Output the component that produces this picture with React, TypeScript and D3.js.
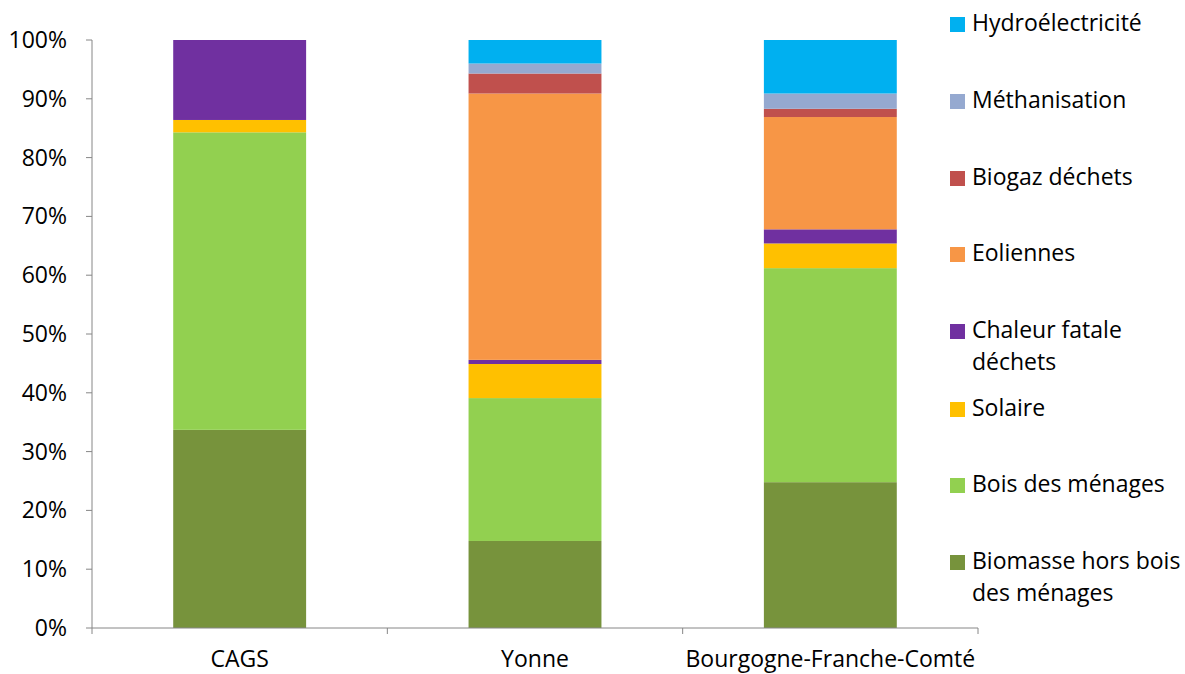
import React from "react";
import * as d3 from "d3";

const categories = ["CAGS", "Yonne", "Bourgogne-Franche-Comté"];
const seriesNames = [
  "Biomasse hors bois des ménages",
  "Bois des ménages",
  "Solaire",
  "Chaleur fatale déchets",
  "Eoliennes",
  "Biogaz déchets",
  "Méthanisation",
  "Hydroélectricité",
];
const biomasse = [33.7, 14.8, 24.8];
const bois = [50.6, 24.3, 36.4];
const solaire = [2.1, 5.8, 4.2];
const chaleur = [13.6, 0.7, 2.4];
const eoliennes = [0, 45.3, 19.1];
const biogaz = [0, 3.4, 1.4];
const methanisation = [0, 1.7, 2.6];
const hydro = [0, 4.0, 9.1];
const colors = ["#77933C", "#92D050", "#FFC000", "#7030A0", "#F79646", "#C0504D", "#95A9D0", "#00B0F0"];
const yTicks = [0, 10, 20, 30, 40, 50, 60, 70, 80, 90, 100];
const legendLines: string[][] = [
  ["Hydroélectricité"],
  ["Méthanisation"],
  ["Biogaz déchets"],
  ["Eoliennes"],
  ["Chaleur fatale", "déchets"],
  ["Solaire"],
  ["Bois des ménages"],
  ["Biomasse hors bois", "des ménages"],
];
const legendColors = ["#00B0F0", "#95A9D0", "#C0504D", "#F79646", "#7030A0", "#FFC000", "#92D050", "#77933C"];
const legendCenters = [24, 101, 178, 254, 331, 409, 485, 562];

export default function App() {
  const W = 1185, H = 674;
  const left = 92, right = 978, top = 40, bottom = 628;
  const series = [biomasse, bois, solaire, chaleur, eoliennes, biogaz, methanisation, hydro];
  const data = categories.map((c, i) => {
    const o: any = { cat: c };
    seriesNames.forEach((s, j) => (o[s] = series[j][i]));
    return o;
  });
  const stacked = d3.stack<any>().keys(seriesNames)(data);
  const x = d3.scaleBand().domain(categories).range([left, right]).paddingInner(0.55).paddingOuter(0.275);
  const x0 = d3.scaleBand().domain(categories).range([left, right]);
  const y = d3.scaleLinear().domain([0, 100]).range([bottom, top]);
  const font = "'Open Sans', sans-serif";
  const fs = 23;
  const axisColor = "#868686";
  return (
    <svg width={W} height={H} style={{ position: "absolute", left: 0, top: 0 }} fontFamily={font}>
      {stacked.map((layer, j) =>
        layer.map((d, i) => (
          <rect
            key={j + "-" + i}
            x={x(categories[i])}
            width={x.bandwidth()}
            y={y(d[1])}
            height={Math.max(0, y(d[0]) - y(d[1]))}
            fill={colors[j]}
          />
        ))
      )}
      <line x1={left} x2={left} y1={top} y2={bottom} stroke={axisColor} />
      {yTicks.map((t) => (
        <g key={t}>
          <line x1={left - 6} x2={left} y1={y(t)} y2={y(t)} stroke={axisColor} />
          <text x={67} y={y(t)} dy="0.35em" textAnchor="end" fontSize={fs} fill="#000">
            {t}%
          </text>
        </g>
      ))}
      <line x1={left} x2={right} y1={bottom} y2={bottom} stroke={axisColor} />
      {[...categories.map((c) => x0(c) as number), right].map((px, i) => (
        <line key={i} x1={px} x2={px} y1={bottom} y2={bottom + 6} stroke={axisColor} />
      ))}
      {categories.map((c) => (
        <text key={c} x={(x0(c) as number) + x0.bandwidth() / 2} y={667} fontSize={fs} fill="#000">
          <tspan textAnchor="middle">{c}</tspan>
        </text>
      ))}
      {legendLines.map((lines, i) => (
        <g key={i}>
          <rect x={950} y={legendCenters[i] - 7} width={15} height={15} fill={legendColors[i]} />
          {lines.map((l, k) => (
            <text key={k} x={972} y={legendCenters[i] + 7 + k * 32} fontSize={fs} fill="#000">
              {l}
            </text>
          ))}
        </g>
      ))}
    </svg>
  );
}
